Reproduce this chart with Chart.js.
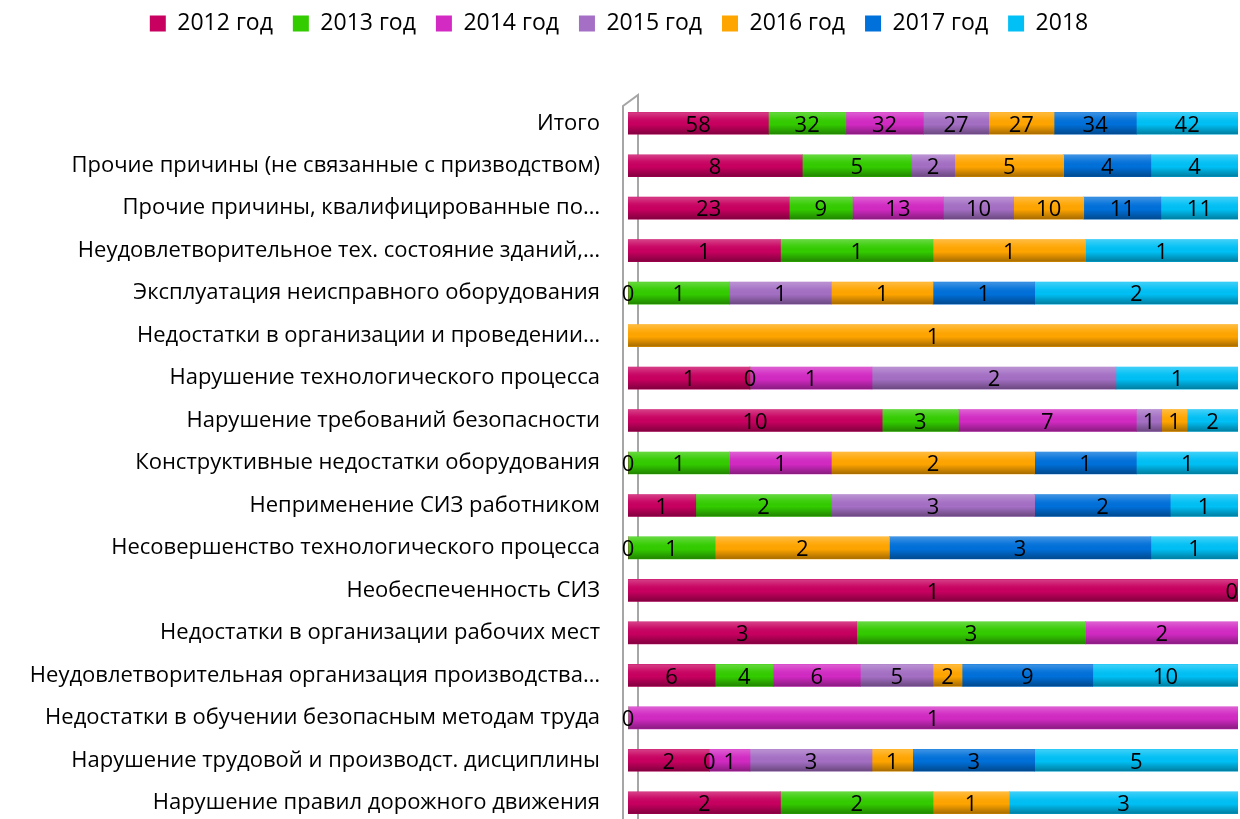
<!DOCTYPE html>
<html>
<head>
<meta charset="utf-8">
<script src="https://cdn.jsdelivr.net/npm/chart.js@4"></script>
<style>
  html, body { margin: 0; padding: 0; background: #fff; overflow: hidden; }
  #wrap { width: 1240px; height: 824px; position: relative; }
</style>
</head>
<body>
<div id="wrap"><canvas id="chart"></canvas></div>
<script>
const categories = [
  'Итого',
  'Прочие причины (не связанные с призводством)',
  'Прочие причины, квалифицированные по…',
  'Неудовлетворительное тех. состояние зданий,…',
  'Эксплуатация неисправного оборудования',
  'Недостатки в организации и проведении…',
  'Нарушение технологического процесса',
  'Нарушение требований безопасности',
  'Конструктивные недостатки оборудования',
  'Неприменение СИЗ работником',
  'Несовершенство технологического процесса',
  'Необеспеченность СИЗ',
  'Недостатки в организации рабочих мест',
  'Неудовлетворительная организация производства…',
  'Недостатки в обучении безопасным методам труда',
  'Нарушение трудовой и производст. дисциплины',
  'Нарушение правил дорожного движения'
];

const years = ['2012 год', '2013 год', '2014 год', '2015 год', '2016 год', '2017 год', '2018'];

const v2012 = [58, 8, 23, 1, 0, null, 1, 10, 0, 1, 0, 1, 3, 6, null, 2, 2];
const v2013 = [32, 5, 9, 1, 1, null, 0, 3, 1, 2, 1, 0, 3, 4, 0, 0, 2];
const v2014 = [32, null, 13, null, null, null, 1, 7, 1, null, null, null, 2, 6, 1, 1, null];
const v2015 = [27, 2, 10, null, 1, null, 2, 1, null, 3, null, null, null, 5, null, 3, null];
const v2016 = [27, 5, 10, 1, 1, 1, null, 1, 2, null, 2, null, null, 2, null, 1, 1];
const v2017 = [34, 4, 11, null, 1, null, null, null, 1, 2, 3, null, null, 9, null, 3, null];
const v2018 = [42, 4, 11, 1, 2, null, 1, 2, 1, 1, 1, null, null, 10, null, 5, 3];

const colors = ['#C80060', '#33CC00', '#D22AC3', '#A46FC4', '#FFA500', '#0070DA', '#00C0F5'];

const series = [v2012, v2013, v2014, v2015, v2016, v2017, v2018];

// row totals for the 100% stacking
const totals = categories.map((c, i) => series.reduce((s, arr) => s + (arr[i] || 0), 0));

const datasets = series.map((arr, k) => ({
  label: years[k],
  raw: arr,
  data: arr.map((v, i) => v == null ? null : v / totals[i] * 100),
  backgroundColor: colors[k],
  borderWidth: 0,
  barThickness: 22
}));

const FONT = "'Open Sans', sans-serif";

// the grey "wall" behind the bars
const wall = {
  id: 'wall',
  beforeDatasetsDraw(chart) {
    const ctx = chart.ctx;
    const a = chart.chartArea;
    const xl = a.left - 5, xr = a.left + 10;
    ctx.save();
    ctx.strokeStyle = '#A6A6A6';
    ctx.lineWidth = 2;
    ctx.beginPath();
    ctx.moveTo(xl, a.bottom + 5);
    ctx.lineTo(xl, a.top + 4);
    ctx.lineTo(xr, a.top - 7);
    ctx.lineTo(xr, a.bottom + 5);
    ctx.stroke();
    ctx.restore();
  }
};

// cylinder-ish shading over each segment
const shade = {
  id: 'shade',
  afterDatasetsDraw(chart) {
    const ctx = chart.ctx;
    chart.data.datasets.forEach((ds, k) => {
      const meta = chart.getDatasetMeta(k);
      meta.data.forEach((el, i) => {
        if (ds.data[i] == null) return;
        const p = el.getProps(['x', 'y', 'base', 'height'], true);
        const x0 = Math.min(p.x, p.base), x1 = Math.max(p.x, p.base);
        if (x1 - x0 < 0.5) return;
        const top = p.y - p.height / 2, bot = p.y + p.height / 2;
        const g = ctx.createLinearGradient(0, top, 0, bot);
        g.addColorStop(0, 'rgba(255,255,255,0.25)');
        g.addColorStop(0.3, 'rgba(255,255,255,0.05)');
        g.addColorStop(0.55, 'rgba(0,0,0,0)');
        g.addColorStop(1, 'rgba(0,0,0,0.35)');
        ctx.save();
        ctx.fillStyle = g;
        ctx.fillRect(x0, top, x1 - x0, bot - top);
        ctx.restore();
      });
    });
  }
};

// value labels in the middle of every segment
const valueLabels = {
  id: 'valueLabels',
  afterDatasetsDraw(chart) {
    const ctx = chart.ctx;
    const a = chart.chartArea;
    ctx.save();
    ctx.font = "22px " + FONT;
    ctx.fillStyle = '#000';
    ctx.textAlign = 'center';
    ctx.textBaseline = 'middle';
    chart.data.datasets.forEach((ds, k) => {
      const meta = chart.getDatasetMeta(k);
      meta.data.forEach((el, i) => {
        const v = ds.raw[i];
        if (v == null) return;
        const p = el.getProps(['x', 'y', 'base'], true);
        const half = ctx.measureText(String(v)).width / 2;
        const x = Math.min((p.x + p.base) / 2, a.right - half);
        ctx.fillText(String(v), x, p.y + 2);
      });
    });
    ctx.restore();
  }
};

// legend spacing
const legendPlace = {
  id: 'legendPlace',
  beforeInit(chart) {
    const fit = chart.legend.fit;
    chart.legend.fit = function () {
      fit.bind(chart.legend)();
      this.height = 102;
    };
  },
  afterLayout(chart) {
    chart.legend.top -= 8;
  }
};

new Chart(document.getElementById('chart'), {
  type: 'bar',
  data: { labels: categories, datasets: datasets },
  options: {
    indexAxis: 'y',
    responsive: true,
    maintainAspectRatio: false,
    animation: false,
    layout: { padding: { left: 0, right: 2, top: 0, bottom: 0 } },
    scales: {
      x: { stacked: true, display: false, min: 0, max: 100 },
      y: {
        stacked: true,
        grid: { display: false, drawTicks: false },
        border: { display: false },
        ticks: {
          autoSkip: false,
          padding: 28,
          color: '#000',
          font: { family: FONT, size: 22 }
        },
        afterFit(scale) {
          scale.width = 628;
          scale.paddingTop = 0;
          scale.paddingBottom = 0;
        }
      }
    },
    plugins: {
      legend: {
        position: 'top',
        labels: {
          boxWidth: 16,
          boxHeight: 16,
          padding: 20,
          color: '#000',
          font: { family: FONT, size: 23 }
        }
      },
      tooltip: { enabled: false }
    }
  },
  plugins: [legendPlace, wall, shade, valueLabels]
});
</script>
</body>
</html>
